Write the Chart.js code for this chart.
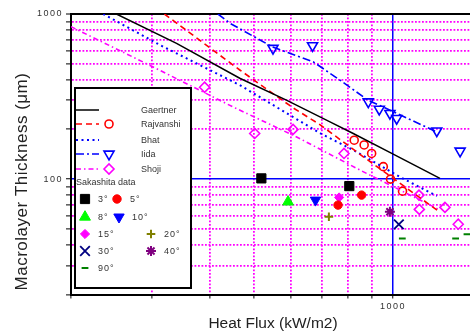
<!DOCTYPE html>
<html>
<head>
<meta charset="utf-8">
<script src="https://cdn.jsdelivr.net/npm/chart.js@4/dist/chart.umd.min.js"></script>
<style>
  html, body { margin: 0; padding: 0; background: #fff; overflow: hidden; }
  canvas { display: block; }
</style>
</head>
<body>
<canvas id="chart" width="470" height="334"></canvas>
<script>
// Axis ticks (log scales)
const xTickValues = [200, 300, 400, 500, 600, 700, 800, 900, 1000];
const yTickValues = [20, 30, 40, 50, 60, 70, 80, 90, 100, 200, 300, 400, 500, 600, 700, 800, 900, 1000];
const xTickLabels = [1000];
const yTickLabels = [100, 1000];
const xTitle = 'Heat Flux (kW/m2)';
const yTitle = 'Macrolayer Thickness (\u03bcm)';

// Correlations: heat flux q (kW/m2) vs macrolayer thickness (μm)
const gaertnerQ = [251, 339, 465, 587, 730, 820, 994, 1265];
const gaertnerD = [1000, 664, 408, 301, 222, 189, 143, 101];
const rajvanshiQ = [319, 465, 607, 694, 861, 1265];
const rajvanshiD = [1000, 458, 270, 214, 137, 63];
const bhatQ = [235, 312, 465, 694, 820, 1036, 1245];
const bhatD = [1000, 649, 371, 190, 150, 103, 79];
const iidaQ = [417, 443, 548, 671, 767, 882, 1002, 1245];
const iidaD = [1000, 878, 631, 514, 398, 301, 256, 193];
const shojiQ = [200, 301, 449, 618, 861, 1265];
const shojiD = [838, 479, 274, 180, 111, 65];

// Measured points of each author
const rajvanshiPtQ = [824, 866, 899, 953, 988, 1049];
const rajvanshiPtD = [172, 161, 143, 119, 100, 84.5];
const iidaPtQ = [549, 669, 884, 934, 985, 1019, 1245, 1399];
const iidaPtD = [620, 643, 294, 265, 250, 233, 196, 148];
const shojiPtQ = [390, 501, 607, 783, 1139, 1141, 1297, 1386];
const shojiPtD = [360, 189, 200, 143, 80, 65.5, 67.4, 53.3];

// Sakashita data, by surface inclination
const sak3Q = [518, 804],  sak3D = [101, 90.7];
const sak5Q = [855, 760],  sak5D = [80, 69.6];
const sak8Q = [592],       sak8D = [72.8];
const sak10Q = [679],      sak10D = [74.6];
const sak15Q = [764],      sak15D = [77.4];
const sak20Q = [726],      sak20D = [59.1];
const sak30Q = [1030],     sak30D = [53.2];
const sak40Q = [985],      sak40D = [63.4];
const sak90Q = [1048, 1368, 1448], sak90D = [43.7, 43.7, 46.4];

const FONT = '"Liberation Sans", Arial, Helvetica, sans-serif';
const pts = (q, d) => q.map((v, i) => ({ x: v, y: d[i] }));

function curve(label, q, d, color, dash, width) {
  return {
    label, data: pts(q, d), showLine: true, fill: false, tension: 0,
    borderColor: color, backgroundColor: color, borderWidth: width,
    borderDash: dash, pointRadius: 0, pointHoverRadius: 0
  };
}
function marks(label, q, d, style, radius, stroke, fillColor, bw, rot) {
  return {
    label, data: pts(q, d), showLine: false,
    pointStyle: style, pointRadius: radius, pointHoverRadius: radius,
    pointRotation: rot || 0, borderColor: stroke, backgroundColor: fillColor,
    pointBorderColor: stroke, pointBackgroundColor: fillColor,
    borderWidth: bw, pointBorderWidth: bw
  };
}

const NONE = 'rgba(0,0,0,0)';
const datasets = [
  curve('Gaertner', gaertnerQ, gaertnerD, '#000000', [], 1.5),
  curve('Rajvanshi', rajvanshiQ, rajvanshiD, '#FF0000', [6, 4], 1.6),
  curve('Bhat', bhatQ, bhatD, '#0000FF', [2, 3.5], 2),
  curve('Iida', iidaQ, iidaD, '#0000FF', [8, 3, 2, 3], 1.6),
  curve('Shoji', shojiQ, shojiD, '#FF00FF', [5, 3, 1.5, 3], 1.6),
  marks('Rajvanshi data', rajvanshiPtQ, rajvanshiPtD, 'circle', 4, '#FF0000', NONE, 1.6),
  marks('Iida data', iidaPtQ, iidaPtD, 'triangle', 5.8, '#0000FF', NONE, 1.6, 180),
  marks('Shoji data', shojiPtQ, shojiPtD, 'rectRot', 5, '#FF00FF', NONE, 1.6),
  marks('3\u00b0', sak3Q, sak3D, 'rect', 6.5, '#000000', '#000000', 1),
  marks('5\u00b0', sak5Q, sak5D, 'circle', 4.2, '#FF0000', '#FF0000', 1),
  marks('8\u00b0', sak8Q, sak8D, 'triangle', 6.3, '#00FF00', '#00FF00', 1),
  marks('10\u00b0', sak10Q, sak10D, 'triangle', 6, '#0000FF', '#0000FF', 1, 180),
  marks('15\u00b0', sak15Q, sak15D, 'rectRot', 4.6, '#FF00FF', '#FF00FF', 1),
  marks('20\u00b0', sak20Q, sak20D, 'cross', 4.3, '#808000', '#808000', 2),
  marks('30\u00b0', sak30Q, sak30D, 'crossRot', 6.8, '#000080', '#000080', 1.8),
  marks('40\u00b0', sak40Q, sak40D, 'star', 5, '#800080', '#800080', 2),
  marks('90\u00b0', sak90Q, sak90D, 'line', 3.4, '#008000', '#008000', 2)
];

const MINOR_DASH = [1.8, 1.7];
const tickVal = c => (c && c.tick) ? c.tick.value : null;

// Tick labels are drawn with a little tracking; titles and key reset it.
const trackingPlugin = {
  id: 'tracking',
  beforeDraw(chart) { chart.ctx.letterSpacing = '1.5px'; },
  beforeDatasetsDraw(chart) { chart.ctx.letterSpacing = '0px'; }
};

function drawMarker(ctx, ds, x, y) {
  ctx.save();
  ctx.fillStyle = ds.pointBackgroundColor;
  ctx.strokeStyle = ds.pointBorderColor;
  ctx.lineWidth = ds.pointBorderWidth;
  ctx.setLineDash([]);
  Chart.helpers.drawPoint(ctx, {
    pointStyle: ds.pointStyle, rotation: ds.pointRotation,
    radius: ds.pointRadius, borderWidth: ds.pointBorderWidth
  }, x, y);
  ctx.restore();
}

const keyPlugin = {
  id: 'keyBox',
  afterDatasetsDraw(chart) {
    const ctx = chart.ctx;
    const byLabel = l => chart.data.datasets.find(d => d.label === l);
    ctx.save();
    ctx.letterSpacing = '0px';
    ctx.fillStyle = '#ffffff';
    ctx.fillRect(75, 88, 116, 200);
    ctx.strokeStyle = '#000000';
    ctx.lineWidth = 2;
    ctx.strokeRect(75, 88, 116, 200);

    ctx.font = '9px ' + FONT;
    ctx.textBaseline = 'middle';
    ctx.textAlign = 'left';

    const models = [['Gaertner', 110], ['Rajvanshi', 124], ['Bhat', 140], ['Iida', 154], ['Shoji', 169]];
    models.forEach(([name, y]) => {
      const ln = byLabel(name);
      ctx.save();
      ctx.strokeStyle = ln.borderColor;
      ctx.lineWidth = ln.borderWidth;
      ctx.setLineDash(ln.borderDash || []);
      ctx.beginPath();
      ctx.moveTo(76, y);
      ctx.lineTo(99, y);
      ctx.stroke();
      ctx.restore();
      const mk = byLabel(name + ' data');
      if (mk) drawMarker(ctx, mk, 109, y);
      ctx.fillStyle = '#333333';
      ctx.fillText(name, 141, y + 0.5);
    });

    ctx.fillStyle = '#333333';
    ctx.fillText('Sakashita data', 76, 182.5);

    const slots = [
      ['3\u00b0', 85, 199], ['5\u00b0', 117, 199],
      ['8\u00b0', 85, 217], ['10\u00b0', 119, 217],
      ['15\u00b0', 85, 234], ['20\u00b0', 151, 234],
      ['30\u00b0', 85, 251], ['40\u00b0', 151, 251],
      ['90\u00b0', 85, 268]
    ];
    ctx.letterSpacing = '1px';
    slots.forEach(([lab, x, y]) => {
      drawMarker(ctx, byLabel(lab), x, y);
      ctx.fillStyle = '#333333';
      ctx.fillText(lab, x + 13, y + 0.5);
    });
    ctx.restore();
  },
  afterDraw(chart) {
    const ctx = chart.ctx;
    ctx.save();
    ctx.letterSpacing = '0px';
    ctx.fillStyle = '#222222';
    ctx.textAlign = 'center';
    ctx.textBaseline = 'alphabetic';
    ctx.font = '15.5px ' + FONT;
    ctx.fillText(xTitle, 273, 327.5);
    ctx.translate(27.3, 181.5);
    ctx.rotate(-Math.PI / 2);
    ctx.font = '17px ' + FONT;
    ctx.letterSpacing = '0.5px';
    ctx.fillText(yTitle, 0, 0);
    ctx.restore();
  }
};

const noOverhang = s => { s.paddingLeft = 0; s.paddingRight = 0; s.paddingTop = 0; s.paddingBottom = 0; };

new Chart(document.getElementById('chart'), {
  type: 'scatter',
  data: { datasets },
  plugins: [trackingPlugin, keyPlugin],
  options: {
    responsive: false,
    animation: false,
    devicePixelRatio: 1,
    layout: { autoPadding: false, padding: { top: 14, left: 0, right: 0, bottom: 0 } },
    plugins: { legend: { display: false }, tooltip: { enabled: false } },
    scales: {
      x: {
        type: 'logarithmic', min: 200, max: 1470,
        afterBuildTicks: s => { s.ticks = xTickValues.map(v => ({ value: v })); },
        afterFit: s => { s.height = 39.5; noOverhang(s); },
        ticks: {
          autoSkip: false, maxRotation: 0, minRotation: 0, padding: 3,
          color: '#333333', font: { size: 9, family: FONT },
          callback: v => xTickLabels.includes(v) ? String(v) : ''
        },
        grid: {
          drawTicks: true, tickLength: 4, tickWidth: 1, tickColor: '#000000',
          color: c => { const v = tickVal(c); return v === 200 ? NONE : v === 1000 ? '#0000FF' : '#FF00FF'; },
          lineWidth: c => tickVal(c) === 1000 ? 1.5 : 1.8
        },
        border: {
          display: true, color: '#000000', width: 2,
          dash: c => { const v = tickVal(c); return (v === null || v === 1000) ? [] : MINOR_DASH; }
        },
        title: { display: false }
      },
      y: {
        type: 'logarithmic', min: 20, max: 1000,
        afterBuildTicks: s => { s.ticks = yTickValues.map(v => ({ value: v })); },
        afterFit: s => { s.width = 71; noOverhang(s); },
        ticks: {
          autoSkip: false, padding: 3,
          color: '#333333', font: { size: 9, family: FONT },
          callback: v => yTickLabels.includes(v) ? String(v) : ''
        },
        grid: {
          drawTicks: true, tickLength: 5, tickWidth: 1, tickColor: '#000000',
          color: c => {
            const v = tickVal(c);
            if (v === 20) return NONE;
            if (v === 100) return '#0000FF';
            if (v === 1000) return '#000000';
            return '#FF00FF';
          },
          lineWidth: c => { const v = tickVal(c); return v === 1000 ? 2 : v === 100 ? 1.5 : 1.8; }
        },
        border: {
          display: true, color: '#000000', width: 2,
          dash: c => { const v = tickVal(c); return (v === null || v === 100 || v === 1000) ? [] : MINOR_DASH; }
        },
        title: { display: false }
      }
    }
  }
});
</script>
</body>
</html>
